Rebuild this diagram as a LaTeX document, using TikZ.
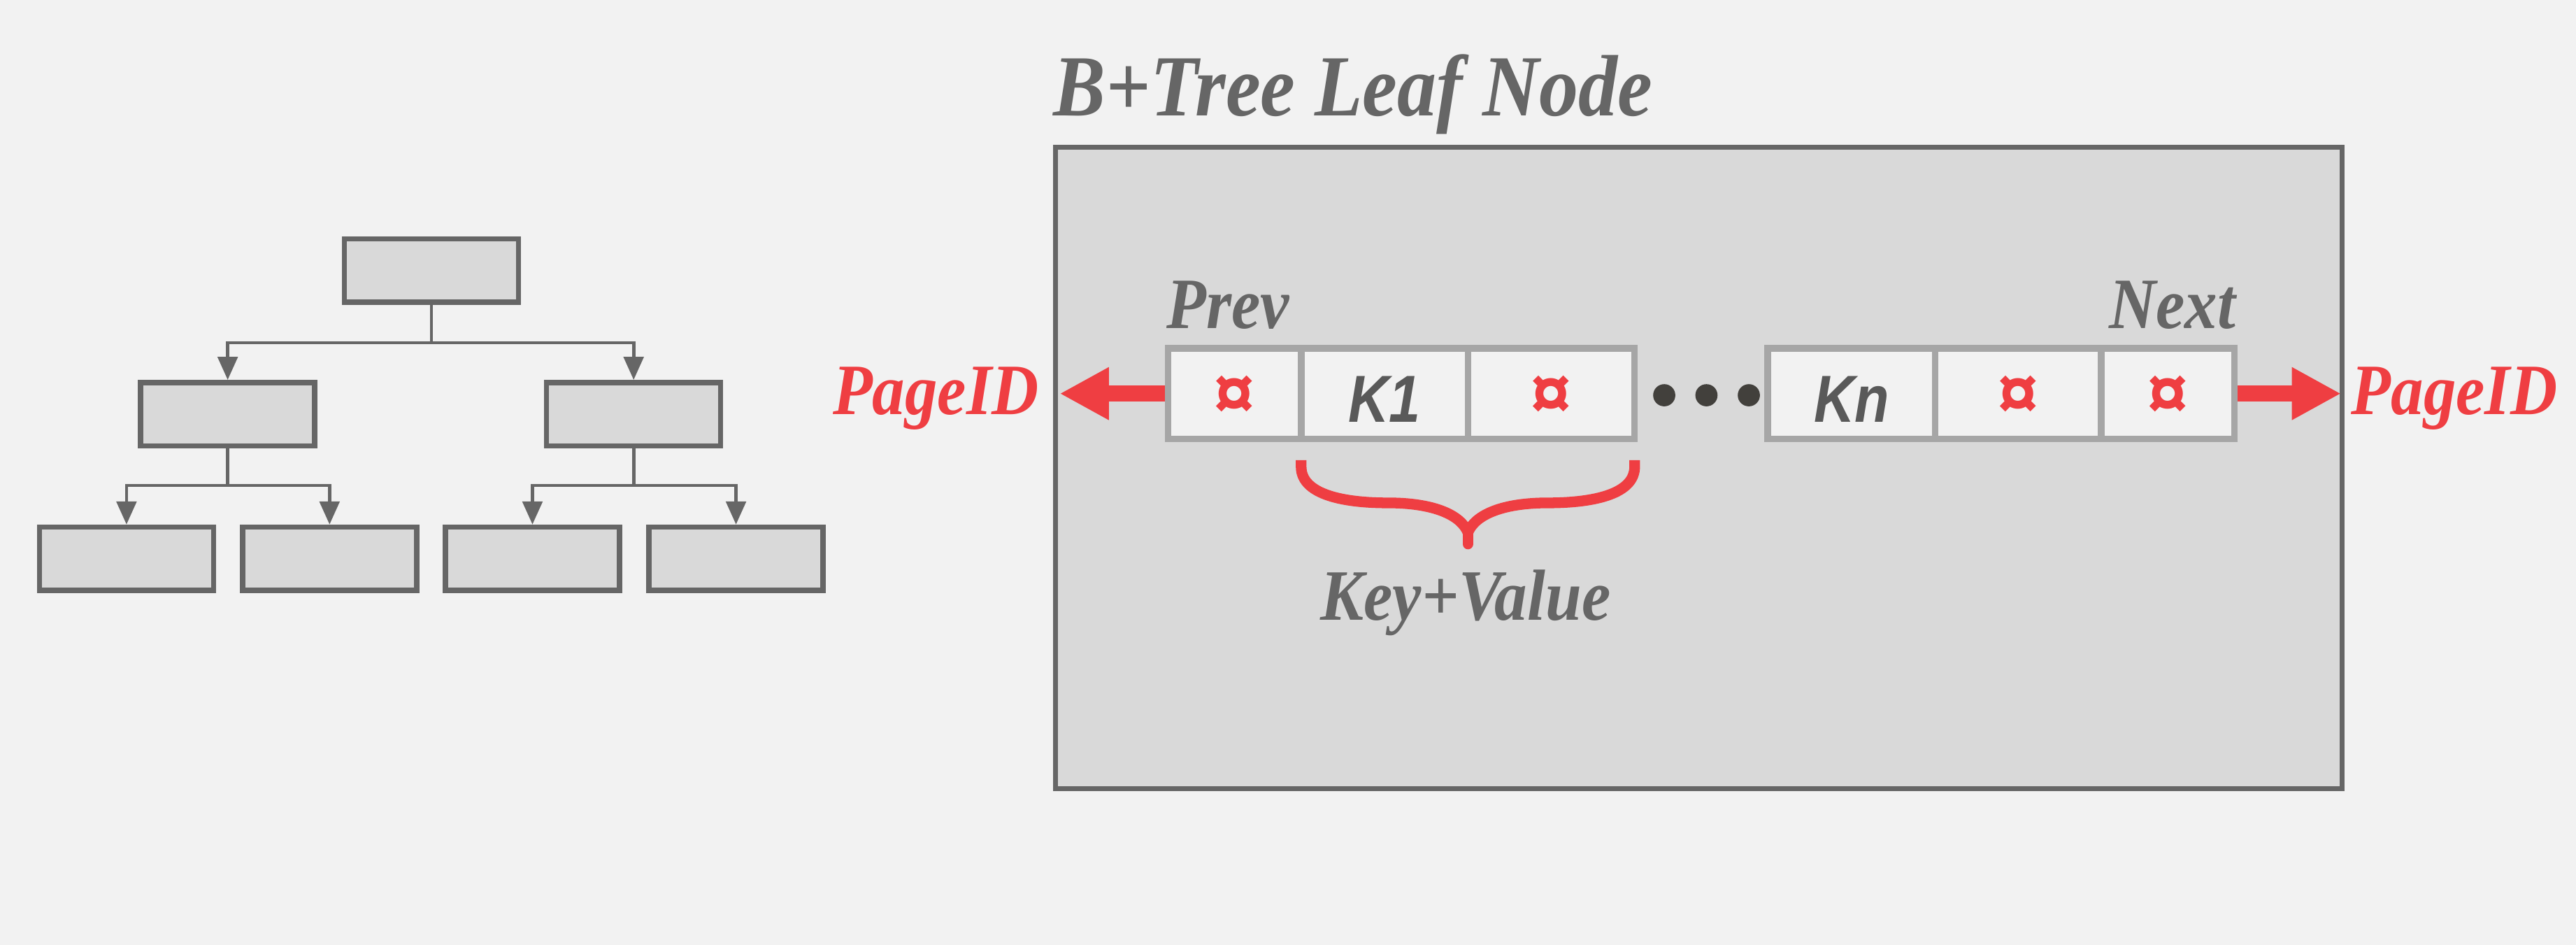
\documentclass[tikz,border=0pt]{standalone}
\usepackage{fontspec}
\usetikzlibrary{arrows.meta}
\newfontfamily\rfont[FakeStretch=0.9]{Liberation Serif}
\newfontfamily\kfont[FakeStretch=0.85]{Liberation Sans}
\newfontfamily\cfont{Liberation Sans}
\definecolor{bg}{HTML}{F2F2F2}
\definecolor{boxfill}{HTML}{D9D9D9}
\definecolor{dk}{HTML}{666666}
\definecolor{cellline}{HTML}{A6A6A6}
\definecolor{myred}{HTML}{EF3E42}
\definecolor{dotc}{HTML}{42403C}
\definecolor{ktext}{HTML}{595959}
\begin{document}
\begin{tikzpicture}[x=1pt,y=-1pt,
  treebox/.style={draw=dk,fill=boxfill,line width=3.2pt,minimum width=106pt,minimum height=38.5pt,inner sep=0pt},
  conn/.style={draw=dk,line width=2pt,-{Triangle[length=14pt,width=12pt]}},
  connline/.style={draw=dk,line width=2pt},
  cellbox/.style={draw=cellline,fill=bg,line width=4pt,minimum height=55pt,inner sep=0pt},
  redarrow/.style={draw=myred,line width=10pt,-{Triangle[length=30pt,width=30pt]}},
  labtext/.style={text=dk,font=\rfont\bfseries\itshape\fontsize{44}{50}\selectfont,inner sep=0pt},
  redtext/.style={text=myred,font=\rfont\bfseries\itshape\fontsize{44}{50}\selectfont,inner sep=0pt},
  ktxt/.style={text=ktext,font=\kfont\bfseries\itshape\fontsize{40.5}{46}\selectfont,inner sep=0pt},
  cur/.style={text=myred,font=\cfont\bfseries\fontsize{44}{48}\selectfont,inner sep=0pt},
  dotnode/.style={circle,fill=dotc,minimum size=13.5pt,inner sep=0pt}
]
\useasboundingbox (0,0) rectangle (1568,575);
\fill[bg] (0,0) rectangle (1568,575);

% ---- tree ----
\node[treebox] (root) at (262.6,164.7) {};
\node[treebox] (ml) at (138.6,252) {};
\node[treebox] (mr) at (385.7,252) {};
\node[treebox] (l1) at (77,340) {};
\node[treebox] (l2) at (200.6,340) {};
\node[treebox] (l3) at (324.1,340) {};
\node[treebox] (l4) at (448,340) {};

\draw[connline] (root.south) -- ++(0,23) coordinate (rj);
\draw[conn] (rj) -| (ml.north);
\draw[conn] (rj) -| (mr.north);
\draw[connline] (ml.south) -- ++(0,22.5) coordinate (mlj);
\draw[conn] (mlj) -| (l1.north);
\draw[conn] (mlj) -| (l2.north);
\draw[connline] (mr.south) -- ++(0,22.5) coordinate (mrj);
\draw[conn] (mrj) -| (l3.north);
\draw[conn] (mrj) -| (l4.north);

% ---- leaf node ----
\node[anchor=base west,labtext,font=\rfont\bfseries\itshape\fontsize{53}{60}\selectfont] (title) at (641,70.6) {B+Tree Leaf Node};
\node[draw=dk,fill=boxfill,line width=3pt,minimum width=783pt,minimum height=390.5pt,inner sep=0pt] (leaf) at (1034,284.75) {};

\node[cellbox,minimum width=81pt] (c1) at (751.5,239.5) {};
\node[cellbox,minimum width=101.5pt] (c2) at (842.75,239.5) {};
\node[cellbox,minimum width=101.5pt] (c3) at (944.25,239.5) {};
\node[cellbox,minimum width=102pt] (d1) at (1127,239.5) {};
\node[cellbox,minimum width=101pt] (d2) at (1228.5,239.5) {};
\node[cellbox,minimum width=81pt] (d3) at (1319.5,239.5) {};

\node[cur] (p1) at (751.5,241.5) {¤};
\node[ktxt,anchor=base] (k1) at (842.75,257) {K1};
\node[cur] (p2) at (944.25,241.5) {¤};
\node[ktxt,anchor=base] (kn) at (1127,257) {Kn};
\node[cur] (p3) at (1228.5,241.5) {¤};
\node[cur] (p4) at (1319.5,241.5) {¤};

\node[dotnode] (dot1) at (1013,240.5) {};
\node[dotnode] (dot2) at (1038.7,240.5) {};
\node[dotnode] (dot3) at (1064.5,240.5) {};

\node[labtext,anchor=base west] (prev) at (710,200) {Prev};
\node[labtext,anchor=base east] (next) at (1361,200) {Next};

\coordinate (ltip) at (645,239.5);
\coordinate (rtip) at (1425,239.5);
\draw[redarrow] (c1.west) -- (ltip);
\draw[redarrow] (d3.east) -- (rtip);
\node[redtext,anchor=base east] (pidl) at (632.5,252) {PageID};
\node[redtext,anchor=base west] (pidr) at (1431,252) {PageID};

% brace
\draw[myred,line width=6.5pt,line join=round]
  (792,280) -- (792,284) .. controls (792,300) and (815,306) .. (845,306)
  .. controls (872,306) and (889,313) .. (893.5,324)
  .. controls (898,313) and (915,306) .. (942,306)
  .. controls (972,306) and (995,300) .. (995,284) -- (995,280);
\draw[myred,line width=6.5pt,line cap=round] (893.5,322) -- (893.5,331);
\node[labtext,anchor=base] (kv) at (892,377.5) {Key+Value};
\end{tikzpicture}
\end{document}
